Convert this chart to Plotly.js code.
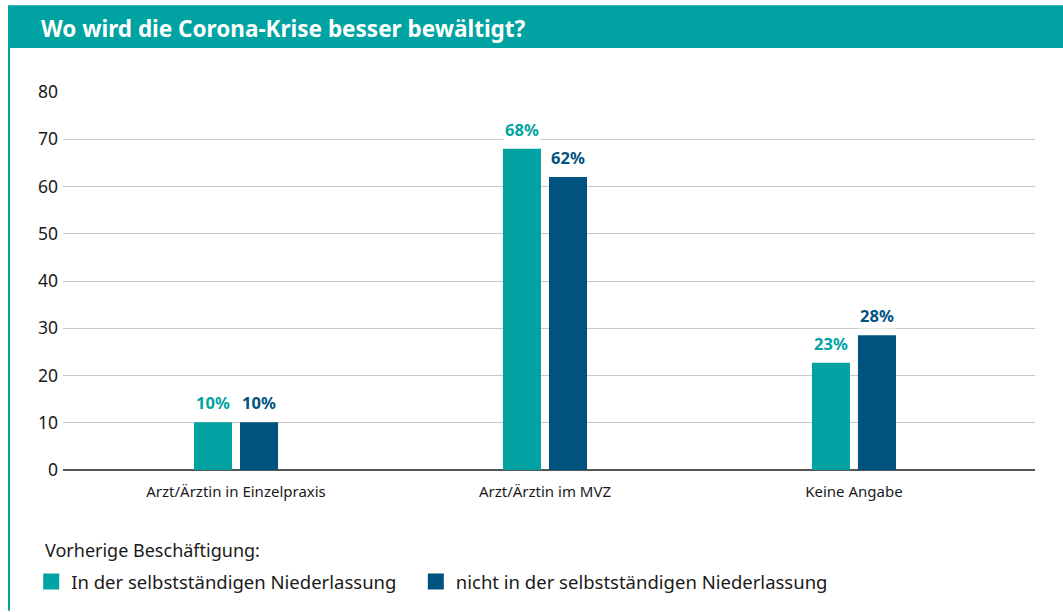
<!DOCTYPE html>
<html>
<head>
<meta charset="utf-8">
<script src="https://cdn.plot.ly/plotly-3.0.1.min.js"></script>
<style>
html,body{margin:0;padding:0;background:#fff;}
#chart{width:1063px;height:612px;}
</style>
</head>
<body>
<div id="chart"></div>
<script>
const categories = ["Arzt/Ärztin in Einzelpraxis", "Arzt/Ärztin im MVZ", "Keine Angabe"];
const seriesNames = ["In der selbstständigen Niederlassung", "nicht in der selbstständigen Niederlassung"];
const valuesNiederlassung = [10.1, 68, 22.7];
const valuesNichtNiederlassung = [10.1, 62, 28.5];
const labelsNiederlassung = ["10%", "68%", "23%"];
const labelsNichtNiederlassung = ["10%", "62%", "28%"];
const yTicks = [0, 10, 20, 30, 40, 50, 60, 70, 80];
const titleText = "Wo wird die Corona-Krise besser bewältigt?";
const legendTitle = "Vorherige Beschäftigung:";

const TEAL = "#00A3A1";
const NAVY = "#00527F";
const FONT = "'Noto Sans', sans-serif";
const PAD = "\u00a0\u00a0\u00a0";

const traces = [
  {type: "bar", name: seriesNames[0], x: categories, y: valuesNiederlassung,
   marker: {color: TEAL}, hoverinfo: "none", showlegend: false},
  {type: "bar", name: seriesNames[1], x: categories, y: valuesNichtNiederlassung,
   marker: {color: NAVY}, hoverinfo: "none", showlegend: false},
  // legend entries (larger square swatches), no data of their own
  {type: "scatter", mode: "markers", name: seriesNames[0] + PAD, x: [null], y: [null],
   marker: {symbol: "square", size: 16, color: TEAL, line: {width: 0}}, hoverinfo: "none"},
  {type: "scatter", mode: "markers", name: seriesNames[1], x: [null], y: [null],
   marker: {symbol: "square", size: 16, color: NAVY, line: {width: 0}}, hoverinfo: "none"}
];

const PW = 972, PH = 379;
const annotations = [];
[[valuesNiederlassung, labelsNiederlassung, TEAL, -23], [valuesNichtNiederlassung, labelsNichtNiederlassung, NAVY, 23]].forEach(([vals, labs, col, dx]) => {
  vals.forEach((v, i) => {
    annotations.push({x: categories[i], y: v, xref: "x", yref: "y", text: "<b>" + labs[i] + "</b>",
      showarrow: false, xshift: dx, yshift: 6, yanchor: "bottom", bgcolor: "#ffffff",
      font: {family: FONT, size: 16.5, color: col}});
  });
});
annotations.push({xref: "paper", yref: "paper", x: -24/PW, y: 1 + 64/PH, xanchor: "left", yanchor: "middle",
  text: "<b>" + titleText + "</b>", showarrow: false,
  font: {family: FONT, size: 22.5, color: "#ffffff"}});
annotations.push({xref: "paper", yref: "paper", x: -20/PW, y: -80/PH, xanchor: "left", yanchor: "middle",
  text: legendTitle, showarrow: false,
  font: {family: FONT, size: 18, color: "#1a1a1a"}});

const layout = {
  width: 1063, height: 612,
  margin: {l: 63, r: 28, t: 92, b: 141},
  paper_bgcolor: "#ffffff", plot_bgcolor: "#ffffff",
  barmode: "group", bargap: 0.702, bargroupgap: 0.174,
  showlegend: true,
  font: {family: FONT, color: "#1a1a1a"},
  xaxis: {type: "category", range: [-0.56, 2.586], showgrid: false, showline: false, zeroline: false,
    ticks: "", ticklabelstandoff: 11,
    tickfont: {family: FONT, size: 15, color: "#1a1a1a"}, fixedrange: true},
  yaxis: {range: [0, 80], tickvals: yTicks, showgrid: true, gridcolor: "#c8c8c8", gridwidth: 1,
    zeroline: true, zerolinecolor: "#555555", zerolinewidth: 1.5, showline: false, ticks: "",
    ticklabelstandoff: 4,
    tickfont: {family: FONT, size: 17.5, color: "#1a1a1a"}, fixedrange: true},
  legend: {orientation: "h", x: -0.0327, xanchor: "left", y: -0.243, yanchor: "top",
    font: {family: FONT, size: 18.5, color: "#1a1a1a"}, itemclick: false, itemdoubleclick: false},
  shapes: [
    {type: "rect", xref: "paper", yref: "paper", layer: "below", fillcolor: TEAL, line: {width: 0},
     x0: -55/PW, x1: 1 + 28/PW, y0: 1 + 44/PH, y1: 1 + 87/PH},
    {type: "line", xref: "paper", yref: "paper", line: {color: TEAL, width: 2},
     x0: -54/PW, x1: -54/PW, y0: -141/PH, y1: 1 + 44/PH}
  ],
  annotations: annotations
};

Plotly.newPlot("chart", traces, layout, {displayModeBar: false, staticPlot: true});
</script>
</body>
</html>
